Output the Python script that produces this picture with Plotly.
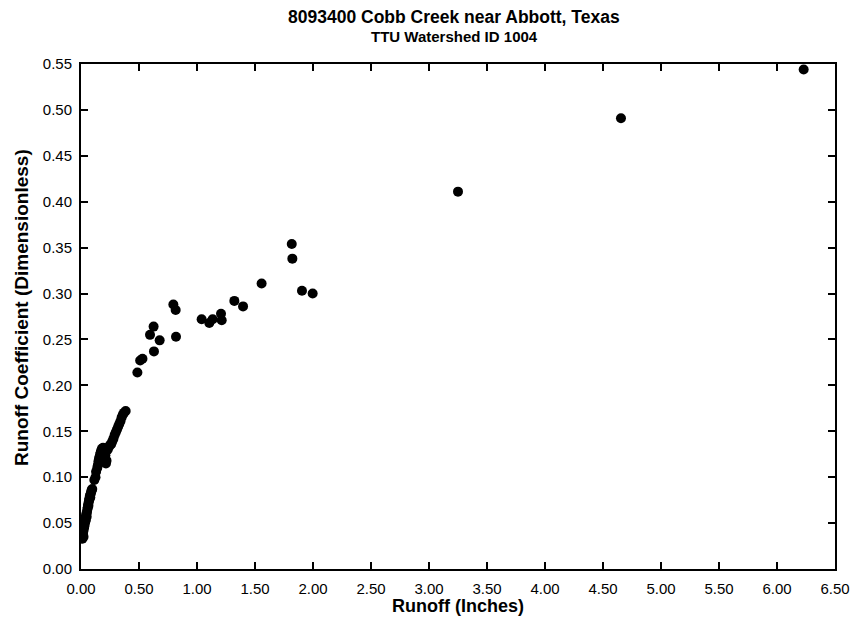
import plotly.graph_objects as go

# Event runoff depth (inches) and runoff coefficient for gauge 8093400
runoff_in = [
    # small events
    0.012, 0.015, 0.018, 0.020, 0.022, 0.025, 0.028, 0.030, 0.033, 0.036,
    0.038, 0.041, 0.043, 0.046, 0.049, 0.052, 0.055, 0.058, 0.061, 0.064,
    0.067, 0.070, 0.073, 0.077, 0.080, 0.084, 0.088, 0.092, 0.097,
    0.115, 0.125, 0.130, 0.140, 0.145, 0.150, 0.155, 0.160, 0.165, 0.170,
    0.175, 0.180, 0.190, 0.200, 0.210, 0.220, 0.215, 0.200, 0.230, 0.240,
    0.250, 0.260, 0.270, 0.280, 0.290, 0.300, 0.310, 0.320, 0.330, 0.340,
    0.350, 0.360, 0.370, 0.385,
    # mid-size events
    0.486, 0.510, 0.530, 0.595, 0.626, 0.629, 0.678, 0.796, 0.816, 0.819,
    1.040, 1.106, 1.135, 1.207, 1.213, 1.322, 1.397, 1.557, 1.817, 1.822,
    1.905, 1.997,
    # large events
    3.25, 4.655, 6.23,
]

runoff_coef = [
    0.033, 0.036, 0.038, 0.041, 0.035, 0.044, 0.046, 0.048, 0.050, 0.052,
    0.055, 0.053, 0.058, 0.060, 0.057, 0.062, 0.065, 0.067, 0.070, 0.069,
    0.073, 0.075, 0.077, 0.080, 0.078, 0.082, 0.084, 0.086, 0.087,
    0.097, 0.100, 0.106, 0.110, 0.113, 0.117, 0.120, 0.122, 0.125, 0.127,
    0.129, 0.131, 0.132, 0.128, 0.124, 0.118, 0.115, 0.121, 0.130, 0.133,
    0.135, 0.136, 0.139, 0.142, 0.146, 0.149, 0.152, 0.155, 0.158, 0.161,
    0.165, 0.168, 0.170, 0.172,
    0.214, 0.227, 0.229, 0.255, 0.264, 0.237, 0.249, 0.288, 0.282, 0.253,
    0.272, 0.268, 0.272, 0.278, 0.271, 0.292, 0.286, 0.311, 0.354, 0.338,
    0.303, 0.300,
    0.411, 0.491, 0.544,
]

x_ticks = [i * 0.5 for i in range(14)]
y_ticks = [i * 0.05 for i in range(12)]

FONT = "Liberation Sans, Arial, sans-serif"

fig = go.Figure(
    go.Scatter(
        x=runoff_in,
        y=runoff_coef,
        mode="markers",
        marker=dict(color="black", size=10, line=dict(width=0)),
        showlegend=False,
    )
)

axis_common = dict(
    showline=True,
    linecolor="black",
    linewidth=2,
    mirror="ticks",
    ticks="inside",
    ticklen=7,
    tickwidth=1.5,
    tickcolor="black",
    showgrid=False,
    zeroline=False,
    automargin=False,
    tickfont=dict(family=FONT, size=15, color="black"),
)

fig.update_xaxes(
    range=[0, 6.5],
    tickvals=x_ticks,
    ticktext=[f"{v:.2f}" for v in x_ticks],
    ticklabelstandoff=5,
    **axis_common,
)
fig.update_yaxes(
    range=[0, 0.55],
    tickvals=y_ticks,
    ticktext=[f"{v:.2f}" for v in y_ticks],
    ticklabelstandoff=4,
    **axis_common,
)

fig.update_layout(
    width=854,
    height=626,
    margin=dict(l=81, r=19, t=64, b=57),
    paper_bgcolor="white",
    plot_bgcolor="white",
    font=dict(family=FONT, color="black"),
    annotations=[
        dict(text="<b>8093400 Cobb Creek near Abbott, Texas</b>",
             xref="paper", yref="paper", x=0.495, y=1.093,
             xanchor="center", yanchor="middle", showarrow=False,
             font=dict(family=FONT, size=17.5, color="black")),
        dict(text="<b>TTU Watershed ID 1004</b>",
             xref="paper", yref="paper", x=0.495, y=1.0545,
             xanchor="center", yanchor="middle", showarrow=False,
             font=dict(family=FONT, size=15, color="black")),
        dict(text="<b>Runoff (Inches)</b>",
             xref="paper", yref="paper", x=0.5, y=-0.0733,
             xanchor="center", yanchor="middle", showarrow=False,
             font=dict(family=FONT, size=18, color="black")),
        dict(text="<b>Runoff Coefficient (Dimensionless)</b>",
             xref="paper", yref="paper", x=-0.0782, y=0.517,
             xanchor="center", yanchor="middle", textangle=-90,
             showarrow=False,
             font=dict(family=FONT, size=19, color="black")),
    ],
)

fig.write_html("out.html")
